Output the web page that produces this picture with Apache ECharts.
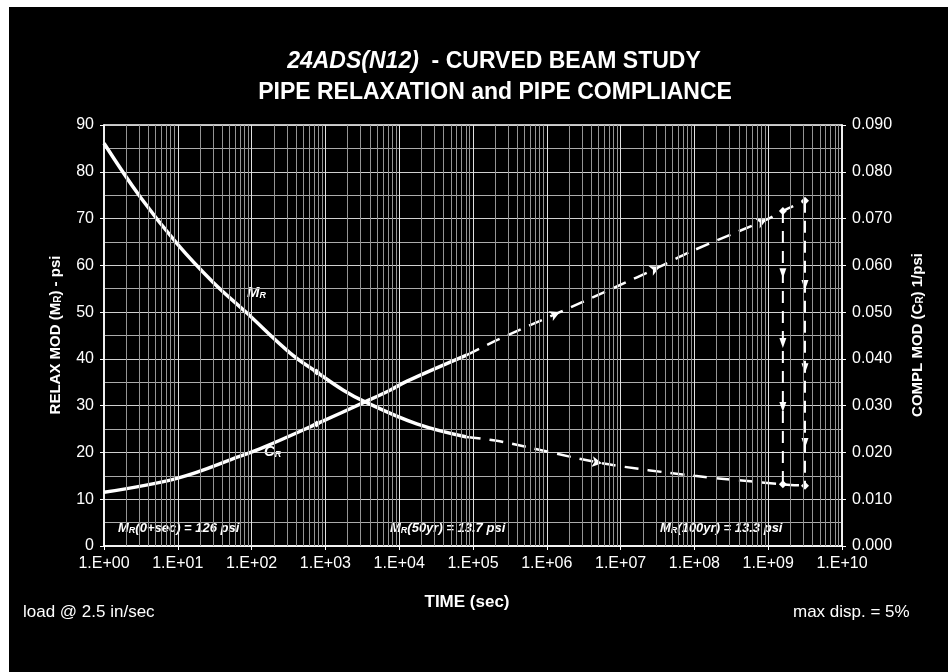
<!DOCTYPE html>
<html>
<head>
<meta charset="utf-8">
<script src="https://cdn.jsdelivr.net/npm/echarts@6/dist/echarts.min.js"></script>
<style>
html,body{margin:0;padding:0;background:#fff;width:948px;height:672px;overflow:hidden;}
#c{position:absolute;left:9px;top:7px;width:939px;height:665px;background:#000;}
</style>
</head>
<body>
<div id="c"></div>
<script>
// ---- data (time in seconds, M_R in psi, C_R in 1/psi) ----
const xTickValues = [1, 1e1, 1e2, 1e3, 1e4, 1e5, 1e6, 1e7, 1e8, 1e9, 1e10];
const xTickLabels = ['1.E+00','1.E+01','1.E+02','1.E+03','1.E+04','1.E+05','1.E+06','1.E+07','1.E+08','1.E+09','1.E+10'];
const mrSolidTime = [1, 3.1, 9.7, 30, 85, 330, 760, 1750, 3450, 17300, 82000];
const mrSolidVal  = [86.1, 74.6, 64.7, 56.4, 49.9, 41.3, 37.2, 33.3, 30.8, 26.1, 23.3];
const mrDashTime  = [82000, 2.3e5, 5.6e6, 1.0e8, 1.58e9, 3.15e9];
const mrDashVal   = [23.3, 22.4, 17.7, 15.0, 13.2, 12.9];
const crSolidTime = [1, 10, 70, 150, 760, 3440, 7500, 12600, 82000];
const crSolidVal  = [0.0115, 0.0145, 0.0192, 0.0212, 0.0261, 0.0308, 0.0333, 0.0352, 0.0408];
const crDashTime  = [82000, 2.1e5, 1.5e6, 7.9e6, 3.4e7, 9.1e7, 9.5e8, 1.58e9, 3.15e9];
const crDashVal   = [0.0408, 0.0440, 0.0500, 0.0551, 0.0597, 0.0630, 0.0698, 0.0716, 0.0738];
// drop lines (left-axis psi units) at 50 yr and 100 yr
const drop50Time = 1.58e9, drop100Time = 3.15e9;
const drop50Val  = [71.6, 58.3, 43.4, 29.7, 13.2];
const drop100Val = [73.8, 55.8, 38.0, 22.0, 12.9];
const yLeftTicks = [0,10,20,30,40,50,60,70,80,90];

const chart = echarts.init(document.getElementById('c'), null, {renderer:'canvas'});
const FONT = 'Liberation Sans, Arial, sans-serif';
const pairs = (t, v) => t.map((x, i) => [x, v[i]]);

const mrSolid = pairs(mrSolidTime, mrSolidVal).map((p, i) => i === 6 ? {value:p, symbol:'diamond', symbolSize:7} : {value:p, symbol:'none'});
const mrDash = pairs(mrDashTime, mrDashVal).map((p, i) => {
  if (i === 2) return {value:p, symbol:'arrow', symbolSize:[8,10], symbolRotate:-99};
  if (i >= 4) return {value:p, symbol:'diamond', symbolSize:8};
  return {value:p, symbol:'none'};
});
const crSolid = pairs(crSolidTime, crSolidVal).map((p, i) => i === 4 ? {value:p, symbol:'diamond', symbolSize:7} : {value:p, symbol:'none'});
const crDash = pairs(crDashTime, crDashVal).map((p, i) => {
  if (i === 2 || i === 4 || i === 6) return {value:p, symbol:'arrow', symbolSize:[8,10], symbolRotate:-66};
  if (i >= 7) return {value:p, symbol:'diamond', symbolSize:8};
  return {value:p, symbol:'none'};
});
const mkDrop = (t, vals) => vals.map((v, i) => {
  if (i === 0 || i === vals.length - 1) return {value:[t, v], symbol:'none'};
  return {value:[t, v], symbol:'triangle', symbolSize:[7,10], symbolRotate:180};
});

// log minor grid positions (2..9 x 10^k)
const minorX = [];
for (let k = 0; k < 10; k++) for (let m = 2; m <= 9; m++) minorX.push({xAxis: m * Math.pow(10, k)});
const majorX = [];
for (let k = 1; k < 10; k++) majorX.push({xAxis: Math.pow(10, k)});

const sub = {fontSize: 9, fontWeight:'bold', fontStyle:'italic', fill:'#fff', fontFamily: FONT, padding:[6,0,0,0]};

chart.setOption({
  backgroundColor: '#000',
  animation: false,
  grid: {left: 95, top: 118, width: 738, height: 421, show: true, borderColor: '#fff', borderWidth: 1.5, backgroundColor:'transparent'},
  xAxis: {
    type: 'log', logBase: 10, min: 1, max: 1e10,
    axisLine: {show: true, lineStyle: {color: '#fff', width: 1.5}},
    axisTick: {show: true, length: 4, lineStyle: {color: '#fff'}, customValues: xTickValues},
    axisLabel: {color: '#fff', fontSize: 16, fontFamily: FONT, margin: 10, customValues: xTickValues,
      formatter: v => xTickLabels[xTickValues.findIndex(t => Math.abs(Math.log10(t) - Math.log10(v)) < 1e-6)]},
    splitLine: {show: false}
  },
  yAxis: [{
    type: 'value', min: yLeftTicks[0], max: yLeftTicks[yLeftTicks.length-1], interval: 10,
    axisLine: {show: true, lineStyle: {color: '#fff', width: 1.5}},
    axisTick: {show: true, length: 4, lineStyle: {color: '#fff'}},
    axisLabel: {color: '#fff', fontSize: 16, fontFamily: FONT, margin: 10},
    splitLine: {show: true, lineStyle: {color: '#d0d0d0', width: 1}},
    minorTick: {show: false, splitNumber: 2},
    minorSplitLine: {show: true, lineStyle: {color: '#ababab', width: 1}}
  }, {
    type: 'value', min: 0, max: 0.09, interval: 0.01, position: 'right',
    axisLine: {show: true, lineStyle: {color: '#fff', width: 1.5}},
    axisTick: {show: true, length: 4, lineStyle: {color: '#fff'}},
    axisLabel: {color: '#fff', fontSize: 16, fontFamily: FONT, margin: 10, formatter: v => v.toFixed(3)},
    splitLine: {show: false}
  }],
  series: [
    {type: 'line', name: 'grid', data: [], silent: true,
      markLine: {silent: true, symbol: 'none', label: {show: false}, animation:false,
        lineStyle: {color: '#959595', width: 1, type: 'solid'}, data: minorX}},
    {type: 'line', name: 'grid2', data: [], silent: true,
      markLine: {silent: true, symbol: 'none', label: {show: false}, animation:false,
        lineStyle: {color: '#e0e0e0', width: 1, type: 'solid'}, data: majorX}},
    {type: 'line', name: 'M_R', data: mrSolid, yAxisIndex: 0, smooth: 0.4, showAllSymbol: true,
      lineStyle: {color: '#fff', width: 3.5}, itemStyle: {color: '#fff'}},
    {type: 'line', name: 'M_R ext', data: mrDash, yAxisIndex: 0, smooth: 0.3, showAllSymbol: true,
      lineStyle: {color: '#fff', width: 2.5, type: [14, 9]}, itemStyle: {color: '#fff'}},
    {type: 'line', name: 'C_R', data: crSolid, yAxisIndex: 1, smooth: 0.4, showAllSymbol: true,
      lineStyle: {color: '#fff', width: 3.5}, itemStyle: {color: '#fff'}},
    {type: 'line', name: 'C_R ext', data: crDash, yAxisIndex: 1, smooth: 0.3, showAllSymbol: true,
      lineStyle: {color: '#fff', width: 2.5, type: [14, 9]}, itemStyle: {color: '#fff'}},
    {type: 'line', name: 'drop50', data: mkDrop(drop50Time, drop50Val), yAxisIndex: 0, showAllSymbol: true,
      lineStyle: {color: '#fff', width: 2, type: [12, 8]}, itemStyle: {color: '#fff'}},
    {type: 'line', name: 'drop100', data: mkDrop(drop100Time, drop100Val), yAxisIndex: 0, showAllSymbol: true,
      lineStyle: {color: '#fff', width: 2, type: [12, 8]}, itemStyle: {color: '#fff'}}
  ],
  graphic: [
    {type:'text', x:485, y:55, style:{text:'{i|24ADS(N12)}{n|  - CURVED BEAM STUDY}', align:'center', verticalAlign:'middle',
      rich:{i:{fontSize:23, fontWeight:'bold', fontStyle:'italic', fill:'#fff', fontFamily:FONT},
            n:{fontSize:23, fontWeight:'bold', fill:'#fff', fontFamily:FONT}}}},
    {type:'text', x:486, y:86, style:{text:'PIPE RELAXATION and PIPE COMPLIANCE', align:'center', verticalAlign:'middle',
      fill:'#fff', font:'bold 23px ' + FONT}},
    {type:'text', x:47, y:328, rotation:Math.PI/2, style:{text:'{b|RELAX MOD (M}{s|R}{b|) - psi}', align:'center', verticalAlign:'middle',
      rich:{b:{fontSize:15, fontWeight:'bold', fill:'#fff', fontFamily:FONT}, s:{fontSize:10, fontWeight:'bold', fill:'#fff', fontFamily:FONT, padding:[5,0,0,0]}}}},
    {type:'text', x:909, y:328, rotation:Math.PI/2, style:{text:'{b|COMPL MOD (C}{s|R}{b|) 1/psi}', align:'center', verticalAlign:'middle',
      rich:{b:{fontSize:15, fontWeight:'bold', fill:'#fff', fontFamily:FONT}, s:{fontSize:10, fontWeight:'bold', fill:'#fff', fontFamily:FONT, padding:[5,0,0,0]}}}},
    {type:'text', x:458, y:595, style:{text:'TIME (sec)', align:'center', verticalAlign:'middle', fill:'#fff', font:'bold 17px ' + FONT}},
    {type:'text', x:14, y:605, style:{text:'load @ 2.5 in/sec', align:'left', verticalAlign:'middle', fill:'#fff', font:'17px ' + FONT}},
    {type:'text', x:784, y:605, style:{text:'max disp. = 5%', align:'left', verticalAlign:'middle', fill:'#fff', font:'17px ' + FONT}},
    {type:'text', x:238, y:286, style:{text:'{b|M}{s|R}', align:'left', verticalAlign:'middle',
      rich:{b:{fontSize:15, fontWeight:'bold', fontStyle:'italic', fill:'#fff', fontFamily:FONT}, s:sub}}},
    {type:'text', x:255, y:445, style:{text:'{b|C}{s|R}', align:'left', verticalAlign:'middle',
      rich:{b:{fontSize:15, fontWeight:'bold', fontStyle:'italic', fill:'#fff', fontFamily:FONT}, s:sub}}},
    {type:'text', x:109, y:521, style:{text:'{b|M}{s|R}{b|(0+sec) = 126 psi}', align:'left', verticalAlign:'middle',
      rich:{b:{fontSize:13, fontWeight:'bold', fontStyle:'italic', fill:'#fff', fontFamily:FONT}, s:sub}}},
    {type:'text', x:381, y:521, style:{text:'{b|M}{s|R}{b|(50yr) = 13.7 psi}', align:'left', verticalAlign:'middle',
      rich:{b:{fontSize:13, fontWeight:'bold', fontStyle:'italic', fill:'#fff', fontFamily:FONT}, s:sub}}},
    {type:'text', x:651, y:521, style:{text:'{b|M}{s|R}{b|(100yr) = 13.3 psi}', align:'left', verticalAlign:'middle',
      rich:{b:{fontSize:13, fontWeight:'bold', fontStyle:'italic', fill:'#fff', fontFamily:FONT}, s:sub}}}
  ]
});
</script>
</body>
</html>
